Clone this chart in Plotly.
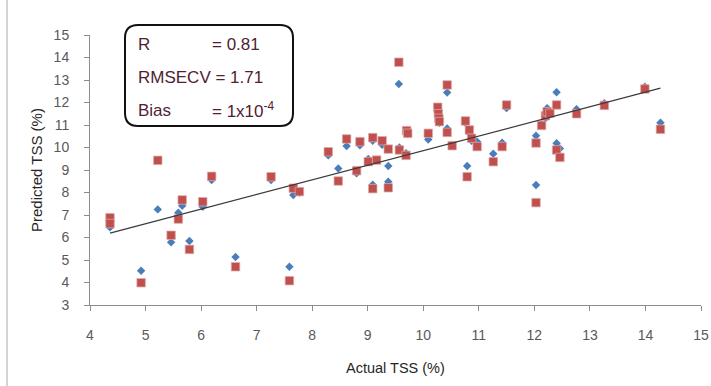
import plotly.graph_objects as go

# Data
actual = [4.36, 4.36, 4.92, 5.22, 5.46, 5.59, 5.66, 5.79, 6.03, 6.19,
          6.62, 7.26, 7.59, 7.66, 7.77, 8.29, 8.47, 8.62, 8.80, 8.86,
          9.01, 9.09, 9.09, 9.16, 9.26, 9.37, 9.37, 9.56, 9.57, 9.69,
          9.70, 9.72, 10.09, 10.26, 10.27, 10.28, 10.29, 10.43, 10.43, 10.52,
          10.76, 10.83, 10.87, 10.79, 10.97, 11.26, 11.42, 11.50, 12.03, 12.03,
          12.13, 12.20, 12.23, 12.28, 12.40, 12.40, 12.46, 12.76, 13.26, 13.99,
          14.27]
pred_blue = [6.45, 6.55, 4.52, 7.25, 5.79, 7.10, 7.41, 5.84, 7.37, 8.56,
             5.13, 8.56, 4.70, 7.89, 8.00, 9.65, 9.07, 10.07, 8.85, 10.10,
             9.49, 10.30, 8.35, 9.45, 10.12, 9.18, 8.48, 12.82, 10.00, 9.75,
             10.70, 10.60, 10.36, 11.60, 11.40, 11.20, 11.10, 12.44, 10.85, 10.10,
             11.10, 10.63, 10.30, 9.18, 10.26, 9.72, 10.21, 11.75, 10.52, 8.33,
             11.03, 11.30, 11.74, 11.50, 12.46, 10.19, 9.96, 11.70, 11.97, 12.70,
             11.10]
pred_red = [6.88, 6.62, 3.99, 9.43, 6.10, 6.82, 7.67, 5.47, 7.59, 8.72,
            4.70, 8.70, 4.08, 8.19, 8.04, 9.81, 8.51, 10.38, 8.97, 10.26,
            9.37, 10.44, 8.17, 9.44, 10.30, 9.93, 8.21, 13.79, 9.89, 9.65,
            10.75, 10.63, 10.63, 11.79, 11.50, 11.30, 11.15, 12.78, 10.67, 10.08,
            11.18, 10.78, 10.41, 8.70, 10.04, 9.37, 10.04, 11.89, 10.20, 7.55,
            10.98, 11.41, 11.59, 11.52, 11.89, 9.89, 9.56, 11.50, 11.87, 12.60,
            10.81]
trend_slope = 0.65
trend_intercept = 3.36

x_ticks = list(range(4, 16))
y_ticks = list(range(3, 16))

x_title = "Actual TSS (%)"
y_title = "Predicted TSS (%)"
stats_labels = ["R", "RMSECV", "Bias"]
stats_values = ["= 0.81", "= 1.71", "= 1x10<sup>-4</sup>"]

fig = go.Figure()
fig.add_trace(go.Scatter(x=actual, y=pred_blue, mode="markers",
                         marker=dict(symbol="diamond", size=6.5, color="#4A7EBB",
                                     line=dict(width=0)),
                         hoverinfo="skip"))
fig.add_trace(go.Scatter(x=actual, y=pred_red, mode="markers",
                         marker=dict(symbol="square", size=8.5, color="#C0504D",
                                     line=dict(width=0.8, color="rgba(225,170,170,0.9)")),
                         hoverinfo="skip"))
x_line = [min(actual), max(actual)]
y_line = [trend_slope * v + trend_intercept for v in x_line]
fig.add_trace(go.Scatter(x=x_line, y=y_line, mode="lines",
                         line=dict(color="#3a3a3a", width=1.2),
                         hoverinfo="skip"))

W, H = 711, 386
L, R, T, B = 90, 10, 35, 81
pw, ph = W - L - R, H - T - B


def px(xp):
    return (xp - L) / pw


def py(yp):
    return (H - B - yp) / ph


# rounded box
x0, x1, y0, y1 = px(125), px(293), py(25), py(126)
rx, ry = 13 / pw, 13 / ph
path = (f"M {x0+rx},{y0} L {x1-rx},{y0} Q {x1},{y0} {x1},{y0-ry} "
        f"L {x1},{y1+ry} Q {x1},{y1} {x1-rx},{y1} "
        f"L {x0+rx},{y1} Q {x0},{y1} {x0},{y1+ry} "
        f"L {x0},{y0-ry} Q {x0},{y0} {x0+rx},{y0} Z")
fig.add_shape(type="path", xref="paper", yref="paper", path=path,
              line=dict(color="#111111", width=2), fillcolor="white", layer="above")

# left frame line
fig.add_shape(type="line", xref="paper", yref="paper",
              x0=px(7), x1=px(7), y0=py(0), y1=py(H),
              line=dict(color="#d4d4d4", width=2))

FONT = "Liberation Sans, Arial"
text_color = "#4f2232"
rows_y = [44, 78, 110]
for lab, val, yy in zip(stats_labels, stats_values, rows_y):
    if lab == "RMSECV":
        fig.add_annotation(xref="paper", yref="paper", x=px(136), y=py(yy),
                           text=lab + " " + val, showarrow=False,
                           xanchor="left", yanchor="middle",
                           font=dict(family=FONT, size=17, color=text_color))
    else:
        fig.add_annotation(xref="paper", yref="paper", x=px(136), y=py(yy),
                           text=lab, showarrow=False, xanchor="left", yanchor="middle",
                           font=dict(family=FONT, size=17, color=text_color))
        fig.add_annotation(xref="paper", yref="paper", x=px(210), y=py(yy),
                           text=val, showarrow=False, xanchor="left", yanchor="middle",
                           font=dict(family=FONT, size=17, color=text_color))

# axis titles
fig.add_annotation(xref="paper", yref="paper", x=0.5, y=py(368),
                   text=x_title, showarrow=False, xanchor="center", yanchor="middle",
                   font=dict(family=FONT, size=14.5, color="#262626"))
fig.add_annotation(xref="paper", yref="paper", x=px(36), y=0.5,
                   text=y_title, showarrow=False, textangle=-90,
                   xanchor="center", yanchor="middle",
                   font=dict(family=FONT, size=15, color="#262626"))

axis_common = dict(showgrid=False, zeroline=False, showline=True,
                   linecolor="#8c8c8c", linewidth=1, automargin=False,
                   ticks="outside", ticklen=5, tickcolor="#8c8c8c",
                   tickfont=dict(family=FONT, size=14, color="#595959"))

fig.update_layout(
    width=W, height=H,
    margin=dict(l=L, r=R, t=T, b=B, autoexpand=False),
    paper_bgcolor="white", plot_bgcolor="white",
    showlegend=False,
    xaxis=dict(range=[4, 15], tickvals=x_ticks, ticklabelstandoff=12, **axis_common),
    yaxis=dict(range=[3, 15], tickvals=y_ticks, ticklabelstandoff=12, **axis_common),
)

fig.write_html("out.html", config={"displayModeBar": False},
               post_script="document.body.style.margin='0';document.body.style.overflow='hidden';")
